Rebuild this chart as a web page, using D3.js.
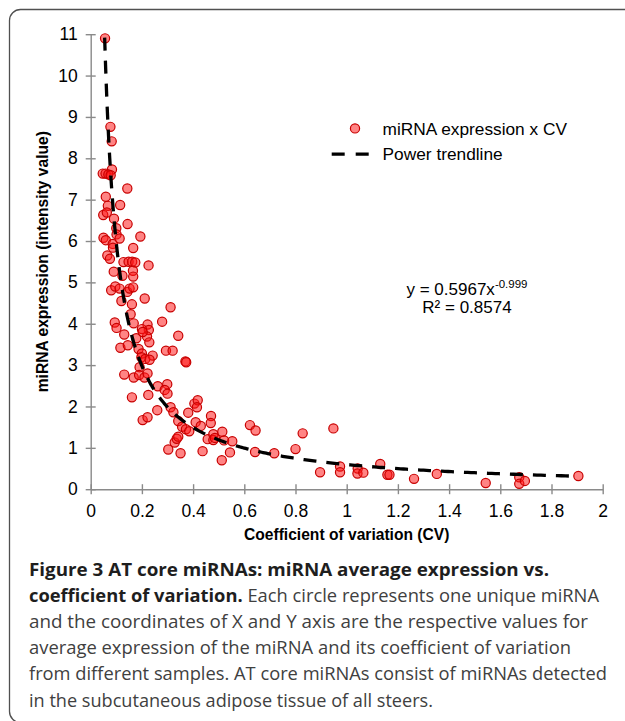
<!DOCTYPE html>
<html>
<head>
<meta charset="utf-8">
<script src="https://cdn.jsdelivr.net/npm/d3@7"></script>
<style>
  html, body { margin: 0; padding: 0; background: #fff; }
  svg { display: block; }
</style>
</head>
<body>
<svg id="chart" width="625" height="721"></svg>
<script>
// Coefficient of variation of each AT core miRNA
const cv = [
  0.056, 0.077, 0.082, 0.083, 0.047, 0.058, 0.069, 0.078, 0.143, 0.059,
  0.115, 0.067, 0.049, 0.063, 0.091, 0.144, 0.100, 0.194, 0.050, 0.059, 0.086, 0.101, 0.113, 0.087, 0.166,
  0.065, 0.075, 0.128, 0.148, 0.162, 0.174, 0.226, 0.090, 0.165, 0.166, 0.124,
  0.080, 0.096, 0.113, 0.143, 0.152, 0.166, 0.120, 0.161, 0.211, 0.312, 0.156, 0.094, 0.168, 0.279, 0.222,
  0.101, 0.131, 0.227, 0.200, 0.178, 0.220, 0.229, 0.342, 0.116, 0.145, 0.187, 0.200, 0.198, 0.213, 0.242, 0.230, 0.294, 0.320, 0.370, 0.373, 0.191, 0.203,
  0.131, 0.168, 0.189, 0.210, 0.222, 0.262, 0.299, 0.289, 0.300, 0.161, 0.225,
  0.260, 0.203, 0.222, 0.312, 0.323, 0.342, 0.381, 0.405, 0.418, 0.415, 0.410, 0.430, 0.470, 0.469, 0.357, 0.372, 0.385, 0.328, 0.336, 0.342, 0.457, 0.479, 0.479, 0.485, 0.514, 0.521, 0.553, 0.622, 0.644, 0.828, 0.948,
  0.303, 0.351, 0.437, 0.544, 0.512, 0.642, 0.717, 0.800, 0.896, 0.974, 0.974, 1.043, 1.042, 1.065, 1.131, 1.159, 1.167, 1.263, 1.352, 1.543, 1.674, 1.674, 1.696, 1.905
];

// Average expression (intensity value) of the same miRNAs
const expression = [
  10.90, 8.76, 8.41, 7.73, 7.63, 7.63, 7.61, 7.59, 7.27, 7.07,
  6.87, 6.85, 6.63, 6.69, 6.54, 6.41, 6.31, 6.11, 6.08, 6.02, 5.93, 6.16, 6.06, 5.84, 5.83,
  5.65, 5.57, 5.49, 5.50, 5.50, 5.48, 5.41, 5.26, 5.28, 5.14, 5.16,
  4.81, 4.90, 4.85, 4.77, 4.85, 4.88, 4.55, 4.47, 4.61, 4.40, 4.23, 4.03, 4.01, 4.05, 3.98,
  3.90, 3.74, 3.85, 3.87, 3.65, 3.69, 3.55, 3.71, 3.42, 3.48, 3.39, 3.28, 3.19, 3.15, 3.23, 3.13, 3.35, 3.35, 3.09, 3.07, 2.95, 3.80,
  2.77, 2.70, 2.76, 2.70, 2.80, 2.49, 2.54, 2.40, 2.31, 2.22, 2.28,
  1.91, 1.67, 1.74, 1.98, 1.86, 1.65, 1.85, 2.07, 2.15, 1.98, 1.62, 1.53, 1.77, 1.60, 1.51, 1.45, 1.40, 1.13, 1.22, 1.27, 1.21, 1.33, 1.19, 1.24, 1.39, 1.18, 1.16, 1.55, 1.42, 1.35, 1.47,
  0.96, 0.87, 0.92, 0.89, 0.70, 0.90, 0.87, 0.97, 0.41, 0.55, 0.41, 0.50, 0.38, 0.40, 0.61, 0.35, 0.35, 0.25, 0.37, 0.15, 0.29, 0.13, 0.20, 0.32
];

const xTickValues = [0, 0.2, 0.4, 0.6, 0.8, 1, 1.2, 1.4, 1.6, 1.8, 2];
const yTickValues = [0, 1, 2, 3, 4, 5, 6, 7, 8, 9, 10, 11];

// Fitted power trendline y = a * x^b over the observed CV range
const trendCoef = 0.5967;
const trendExp = -0.999;
const trendR2 = "0.8574";
const trendRange = [0.0545, 1.905];

const legendLabels = ["miRNA expression x CV", "Power trendline"];
const xTitle = "Coefficient of variation (CV)";
const yTitle = "miRNA expression (intensity value)";

// Caption lines: [bold part, regular part]
const captionLines = [
  ["Figure 3 AT core miRNAs: miRNA average expression vs.", ""],
  ["coefficient of variation.", " Each circle represents one unique miRNA"],
  ["", "and the coordinates of X and Y axis are the respective values for"],
  ["", "average expression of the miRNA and its coefficient of variation"],
  ["", "from different samples. AT core miRNAs consist of miRNAs detected"],
  ["", "in the subcutaneous adipose tissue of all steers."]
];
const captionWidths = [520, 570, 559, 542, 578, 404];

const svg = d3.select("#chart");
const chartFont = "'Liberation Sans', Arial, Helvetica, sans-serif";
const axisColor = "#8a8a8a";

// Figure frame (runs past the right and bottom edges)
svg.append("rect")
  .attr("x", 9.5).attr("y", 9.5)
  .attr("width", 720).attr("height", 713)
  .attr("rx", 11)
  .attr("fill", "none")
  .attr("stroke", "#505050")
  .attr("stroke-width", 1.3);

const x = d3.scaleLinear().domain([0, 2]).range([90.7, 602.7]);
const y = d3.scaleLinear().domain([0, 11]).range([489.2, 34.2]);

// X axis with crossing tick marks
const gx = svg.append("g")
  .attr("transform", `translate(0,${y(0)})`)
  .call(d3.axisBottom(x)
    .tickValues(xTickValues)
    .tickFormat(d => String(d))
    .tickSizeInner(5).tickSizeOuter(0).tickPadding(10));
gx.selectAll(".tick line").attr("y1", -5).attr("y2", 5);

// Y axis with crossing tick marks
const gy = svg.append("g")
  .attr("transform", `translate(${x(0)},0)`)
  .call(d3.axisLeft(y)
    .tickValues(yTickValues)
    .tickFormat(d => String(d))
    .tickSizeInner(5).tickSizeOuter(0).tickPadding(8));
gy.selectAll(".tick line").attr("x1", 5).attr("x2", -5);

[gx, gy].forEach(g => {
  g.select(".domain").attr("stroke", axisColor).attr("stroke-width", 1.4);
  g.selectAll(".tick line").attr("stroke", axisColor).attr("stroke-width", 1.4);
  g.selectAll(".tick text")
    .attr("fill", "#000")
    .style("font-family", chartFont)
    .style("font-size", "17.5px");
});

// Axis titles
svg.append("text")
  .attr("x", (x(0) + x(2)) / 2).attr("y", 539.5)
  .attr("text-anchor", "middle")
  .style("font-family", chartFont).style("font-size", "15.6px").style("font-weight", "bold")
  .text(xTitle);

svg.append("text")
  .attr("transform", `translate(48,${(y(0) + y(11)) / 2}) rotate(-90)`)
  .attr("text-anchor", "middle")
  .style("font-family", chartFont).style("font-size", "15.6px").style("font-weight", "bold")
  .text(yTitle);

// Data points
const pointFill = "rgba(255, 20, 20, 0.52)";
const pointStroke = "#c80000";
svg.append("g")
  .selectAll("circle")
  .data(cv.map((c, i) => ({ cv: c, value: expression[i] })))
  .join("circle")
  .attr("cx", d => x(d.cv))
  .attr("cy", d => y(d.value))
  .attr("r", 4.6)
  .attr("fill", pointFill)
  .attr("stroke", pointStroke)
  .attr("stroke-width", 1.2);

// Power trendline, sampled geometrically so the steep part stays smooth
const nSamples = 400;
const trendPoints = d3.range(nSamples + 1).map(i => {
  const cx = trendRange[0] * Math.pow(trendRange[1] / trendRange[0], i / nSamples);
  return [cx, trendCoef * Math.pow(cx, trendExp)];
});
svg.append("path")
  .datum(trendPoints)
  .attr("d", d3.line().x(d => x(d[0])).y(d => y(d[1])))
  .attr("fill", "none")
  .attr("stroke", "#000")
  .attr("stroke-width", 3.3)
  .attr("stroke-dasharray", "13,10");

// Legend
svg.append("circle")
  .attr("cx", 355).attr("cy", 128.4).attr("r", 4.6)
  .attr("fill", pointFill).attr("stroke", pointStroke).attr("stroke-width", 1.2);
svg.append("text")
  .attr("x", 382.6).attr("y", 135.4)
  .style("font-family", chartFont).style("font-size", "17.3px")
  .text(legendLabels[0]);
svg.append("line")
  .attr("x1", 331.7).attr("x2", 369.3).attr("y1", 154.2).attr("y2", 154.2)
  .attr("stroke", "#000").attr("stroke-width", 3.3)
  .attr("stroke-dasharray", "13,11");
svg.append("text")
  .attr("x", 382.6).attr("y", 159.5)
  .style("font-family", chartFont).style("font-size", "17.3px")
  .text(legendLabels[1]);

// Trendline equation and R²
const eq = svg.append("text")
  .attr("x", 467).attr("y", 294.8)
  .attr("text-anchor", "middle")
  .style("font-family", chartFont).style("font-size", "17px");
eq.append("tspan").text(`y = ${trendCoef}x`);
eq.append("tspan").attr("dy", -7).style("font-size", "11.5px").text(String(trendExp));
svg.append("text")
  .attr("x", 467).attr("y", 312.7)
  .attr("text-anchor", "middle")
  .style("font-family", chartFont).style("font-size", "17px")
  .text(`R² = ${trendR2}`);

// Caption
const capFont = "'Open Sans', 'Noto Sans', sans-serif";
captionLines.forEach((parts, i) => {
  const t = svg.append("text")
    .attr("x", 29).attr("y", 576 + i * 26.1)
    .attr("textLength", captionWidths[i])
    .attr("lengthAdjust", "spacingAndGlyphs")
    .style("font-family", capFont)
    .style("font-size", "18.4px");
  if (parts[0]) t.append("tspan").attr("font-weight", 700).attr("fill", "#1e1e1e").text(parts[0]);
  if (parts[1]) t.append("tspan").attr("font-weight", 400).attr("fill", "#404040").text(parts[1]);
});
</script>
</body>
</html>
